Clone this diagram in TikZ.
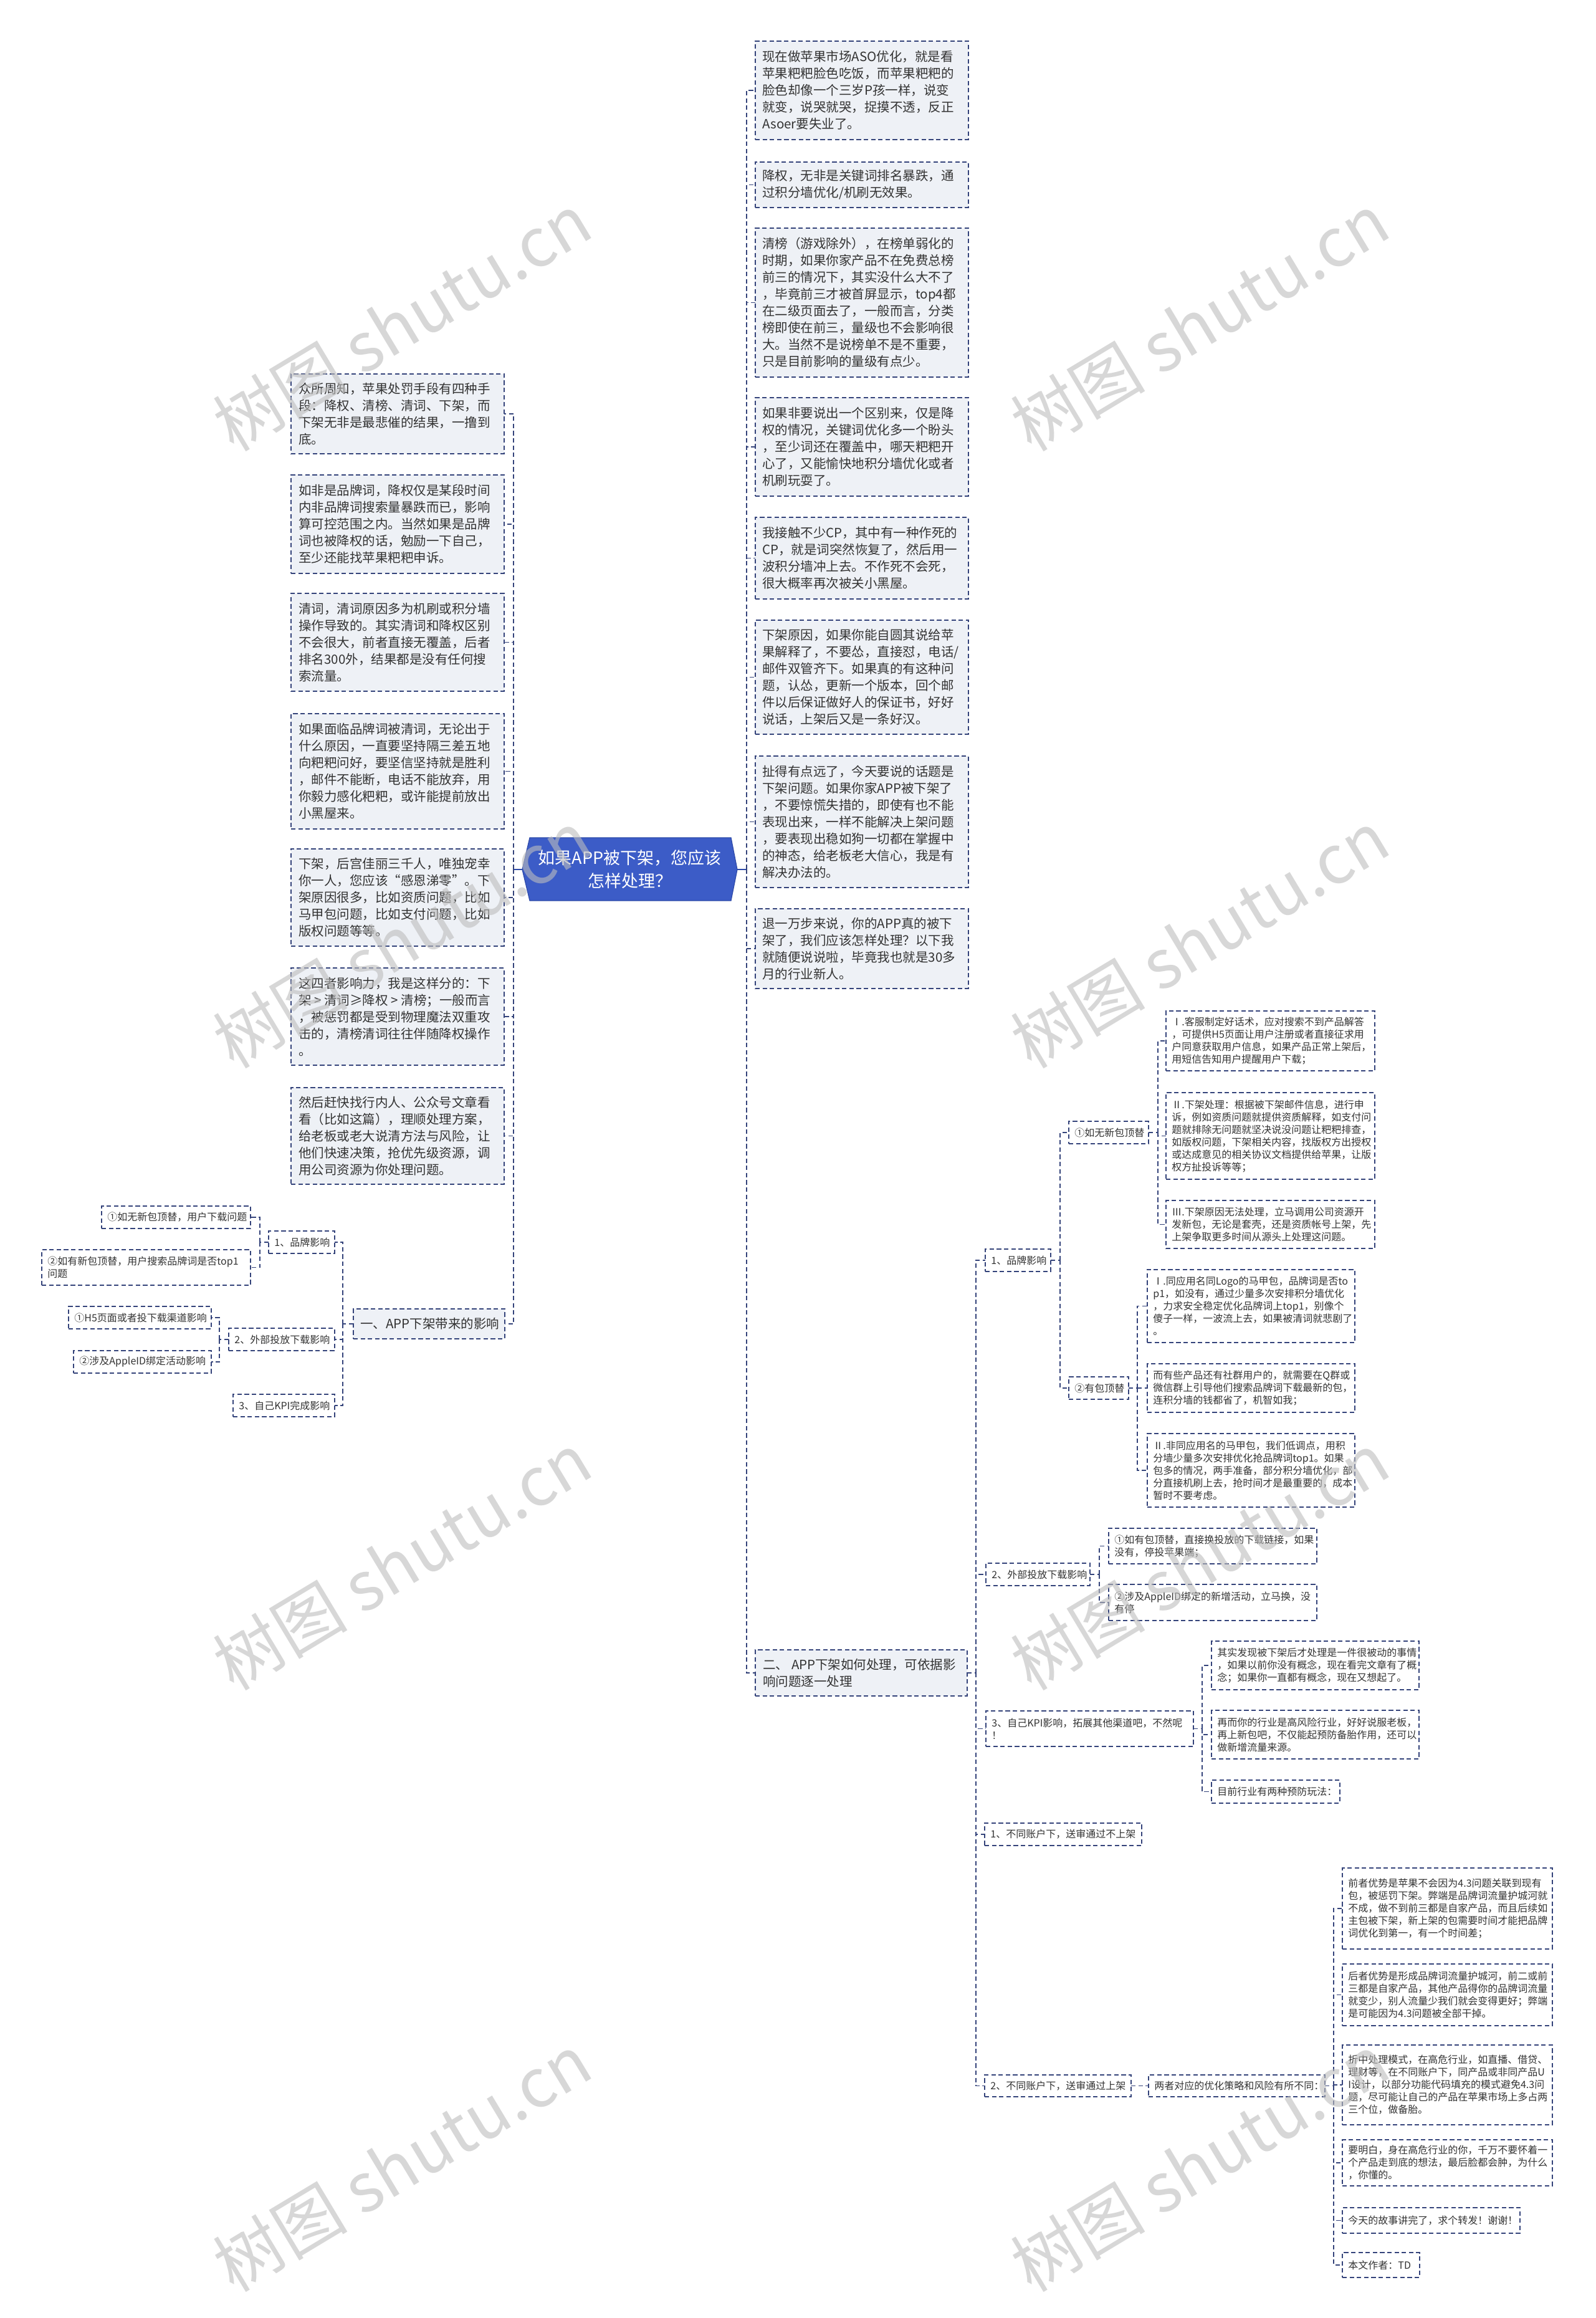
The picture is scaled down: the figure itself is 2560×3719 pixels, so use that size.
\documentclass[tikz,border=0pt]{standalone}
\usepackage{fontspec}
\setmainfont{Noto Sans CJK SC}
\definecolor{navy}{HTML}{34437A}
\definecolor{boxfill}{HTML}{EEF1F6}
\definecolor{txt}{HTML}{333333}
\definecolor{core}{HTML}{3C5CC7}
\definecolor{coreedge}{HTML}{2E4AA8}
\definecolor{wm}{HTML}{BDBDBD}
\tikzset{
  conn/.style={draw=navy, line width=0.8pt, dash pattern=on 3.6pt off 2.2pt},
  coreline/.style={draw=coreedge, line width=1pt},
  bigbox/.style={draw=navy, fill=boxfill, line width=0.8pt, dash pattern=on 3.6pt off 2.2pt, inner sep=0pt, outer sep=0pt, rectangle},
  smallbox/.style={draw=navy, fill=white, line width=0.8pt, dash pattern=on 3.6pt off 2.2pt, inner sep=0pt, outer sep=0pt, rectangle},
  bigtxt/.style={font=\fontsize{10.25}{13.5}\selectfont, text=txt, align=left, inner sep=0pt},
  smalltxt/.style={font=\fontsize{8}{10}\selectfont, text=txt, align=left, inner sep=0pt},
  wmark/.style={font=\fontsize{54}{54}\selectfont, text=wm, rotate=31, opacity=0.6},
}
\newcommand\bx[8]{%
  \node[#6box, minimum width={(#4-#2)*0.5pt}, minimum height={(#5-#3)*0.5pt}] (#1) at ({(#2+#4)/2},{(#3+#5)/2}) {};
  \node[#6txt, anchor=west] at ([xshift=#7]#1.west) {#8};
}
\begin{document}
\begin{tikzpicture}[x=0.5pt, y=-0.5pt]
\path[use as bounding box, fill=white] (0,0) rectangle (2560,3719);

% central node
\fill[core, draw=coreedge, line width=0.6pt] (838,1395) -- (850,1344) -- (1173,1344) -- (1183,1395) -- (1173,1445) -- (850,1445) -- cycle;
\node[minimum width={345*0.5pt}, minimum height={101*0.5pt}, inner sep=0pt, outer sep=0pt] (core) at (1010.5,1394.5) {};
\node[font=\fontsize{13.5}{18.5}\selectfont, text=white, align=center] at (core.center) {如果APP被下架，您应该\\怎样处理？};

% left column
\bx{L1}{467}{600}{809}{728}{big}{6pt}{众所周知，苹果处罚手段有四种手\\段：降权、清榜、清词、下架，而\\下架无非是最悲催的结果，一撸到\\底。}
\bx{L2}{467}{762}{809}{920}{big}{6pt}{如非是品牌词，降权仅是某段时间\\内非品牌词搜索量暴跌而已，影响\\算可控范围之内。当然如果是品牌\\词也被降权的话，勉励一下自己，\\至少还能找苹果粑粑申诉。}
\bx{L3}{467}{952}{809}{1109}{big}{6pt}{清词，清词原因多为机刷或积分墙\\操作导致的。其实清词和降权区别\\不会很大，前者直接无覆盖，后者\\排名300外，结果都是没有任何搜\\索流量。}
\bx{L4}{467}{1145}{809}{1330}{big}{6pt}{如果面临品牌词被清词，无论出于\\什么原因，一直要坚持隔三差五地\\向粑粑问好，要坚信坚持就是胜利\\，邮件不能断，电话不能放弃，用\\你毅力感化粑粑，或许能提前放出\\小黑屋来。}
\bx{L5}{467}{1362}{809}{1518}{big}{6pt}{下架，后宫佳丽三千人，唯独宠幸\\你一人，您应该“感恩涕零”。下\\架原因很多，比如资质问题，比如\\马甲包问题，比如支付问题，比如\\版权问题等等。}
\bx{L6}{467}{1553}{809}{1709}{big}{6pt}{这四者影响力，我是这样分的：下\\架 > 清词≥降权 > 清榜；一般而言\\，被惩罚都是受到物理魔法双重攻\\击的，清榜清词往往伴随降权操作\\。}
\bx{L7}{467}{1745}{809}{1900}{big}{6pt}{然后赶快找行内人、公众号文章看\\看（比如这篇），理顺处理方案，\\给老板或老大说清方法与风险，让\\他们快速决策，抢优先级资源，调\\用公司资源为你处理问题。}
\bx{one}{567}{2100}{810}{2148}{big}{5.5pt}{一、APP下架带来的影响}
\bx{LA}{431}{1975}{537}{2011}{small}{4.5pt}{1、品牌影响}
\bx{LB}{367}{2131}{537}{2167}{small}{4.5pt}{2、外部投放下载影响}
\bx{LC}{374}{2237}{537}{2273}{small}{4.5pt}{3、自己KPI完成影响}
\bx{LA1}{163}{1935}{402}{1971}{small}{4.5pt}{①如无新包顶替，用户下载问题}
\bx{LA2}{67}{2005}{402}{2062}{small}{4.5pt}{②如有新包顶替，用户搜索品牌词是否top1\\问题}
\bx{LB1}{110}{2096}{339}{2132}{small}{4.5pt}{①H5页面或者投下载渠道影响}
\bx{LB2}{118}{2167}{339}{2203}{small}{4.5pt}{②涉及AppleID绑定活动影响}

% middle column
\bx{B1}{1212}{66}{1554}{224}{big}{5.5pt}{现在做苹果市场ASO优化，就是看\\苹果粑粑脸色吃饭，而苹果粑粑的\\脸色却像一个三岁P孩一样，说变\\就变，说哭就哭，捉摸不透，反正\\Asoer要失业了。}
\bx{B2}{1212}{260}{1554}{333}{big}{5.5pt}{降权，无非是关键词排名暴跌，通\\过积分墙优化/机刷无效果。}
\bx{B3}{1212}{366}{1554}{605}{big}{5.5pt}{清榜（游戏除外），在榜单弱化的\\时期，如果你家产品不在免费总榜\\前三的情况下，其实没什么大不了\\，毕竟前三才被首屏显示，top4都\\在二级页面去了，一般而言，分类\\榜即使在前三，量级也不会影响很\\大。当然不是说榜单不是不重要，\\只是目前影响的量级有点少。}
\bx{B4}{1212}{638}{1554}{796}{big}{5.5pt}{如果非要说出一个区别来，仅是降\\权的情况，关键词优化多一个盼头\\，至少词还在覆盖中，哪天粑粑开\\心了，又能愉快地积分墙优化或者\\机刷玩耍了。}
\bx{B5}{1212}{830}{1554}{961}{big}{5.5pt}{我接触不少CP，其中有一种作死的\\CP，就是词突然恢复了，然后用一\\波积分墙冲上去。不作死不会死，\\很大概率再次被关小黑屋。}
\bx{B6}{1212}{995}{1554}{1178}{big}{5.5pt}{下架原因，如果你能自圆其说给苹\\果解释了，不要怂，直接怼，电话/\\邮件双管齐下。如果真的有这种问\\题，认怂，更新一个版本，回个邮\\件以后保证做好人的保证书，好好\\说话，上架后又是一条好汉。}
\bx{B7}{1212}{1213}{1554}{1424}{big}{5.5pt}{扯得有点远了，今天要说的话题是\\下架问题。如果你家APP被下架了\\，不要惊慌失措的，即使有也不能\\表现出来，一样不能解决上架问题\\，要表现出稳如狗一切都在掌握中\\的神态，给老板老大信心，我是有\\解决办法的。}
\bx{B8}{1212}{1458}{1554}{1586}{big}{5.5pt}{退一万步来说，你的APP真的被下\\架了，我们应该怎样处理？以下我\\就随便说说啦，毕竟我也就是30多\\月的行业新人。}
\bx{two}{1212}{2647}{1552}{2721}{big}{6pt}{二、 APP下架如何处理，可依据影\\响问题逐一处理}

% right part
\bx{R1}{1581}{2004}{1686}{2040}{small}{4.5pt}{1、品牌影响}
\bx{RA}{1715}{1799}{1843}{1835}{small}{4.5pt}{①如无新包顶替}
\bx{RB}{1715}{2209}{1811}{2245}{small}{4.5pt}{②有包顶替}
\bx{RI1}{1871}{1622}{2206}{1718}{small}{4.5pt}{Ⅰ.客服制定好话术，应对搜索不到产品解答\\，可提供H5页面让用户注册或者直接征求用\\户同意获取用户信息，如果产品正常上架后，\\用短信告知用户提醒用户下载；}
\bx{RI2}{1871}{1753}{2206}{1892}{small}{4.5pt}{Ⅱ.下架处理：根据被下架邮件信息，进行申\\诉，例如资质问题就提供资质解释，如支付问\\题就排除无问题就坚决说没问题让粑粑排查，\\如版权问题，下架相关内容，找版权方出授权\\或达成意见的相关协议文档提供给苹果，让版\\权方扯投诉等等；}
\bx{RI3}{1871}{1926}{2206}{2003}{small}{4.5pt}{Ⅲ.下架原因无法处理，立马调用公司资源开\\发新包，无论是套壳，还是资质帐号上架，先\\上架争取更多时间从源头上处理这问题。}
\bx{RJ1}{1841}{2037}{2174}{2154}{small}{4.5pt}{Ⅰ.同应用名同Logo的马甲包，品牌词是否to\\p1，如没有，通过少量多次安排积分墙优化\\，力求安全稳定优化品牌词上top1，别像个\\傻子一样，一波流上去，如果被清词就悲剧了\\。}
\bx{RJ2}{1841}{2188}{2174}{2266}{small}{4.5pt}{而有些产品还有社群用户的，就需要在Q群或\\微信群上引导他们搜索品牌词下载最新的包，\\连积分墙的钱都省了，机智如我；}
\bx{RJ3}{1841}{2300}{2174}{2418}{small}{4.5pt}{Ⅱ.非同应用名的马甲包，我们低调点，用积\\分墙少量多次安排优化抢品牌词top1。如果\\包多的情况，两手准备，部分积分墙优化，部\\分直接机刷上去，抢时间才是最重要的，成本\\暂时不要考虑。}
\bx{R2}{1582}{2508}{1749}{2544}{small}{4.5pt}{2、外部投放下载影响}
\bx{RK1}{1779}{2452}{2113}{2509}{small}{4.5pt}{①如有包顶替，直接换投放的下载链接，如果\\没有，停投苹果端；}
\bx{RK2}{1779}{2542}{2113}{2600}{small}{4.5pt}{②涉及AppleID绑定的新增活动，立马换，没\\有停}
\bx{R3}{1582}{2745}{1915}{2802}{small}{4.5pt}{3、自己KPI影响，拓展其他渠道吧，不然呢\\！}
\bx{RL1}{1944}{2633}{2277}{2711}{small}{4.5pt}{其实发现被下架后才处理是一件很被动的事情\\，如果以前你没有概念，现在看完文章有了概\\念；如果你一直都有概念，现在又想起了。}
\bx{RL2}{1944}{2744}{2277}{2822}{small}{4.5pt}{再而你的行业是高风险行业，好好说服老板，\\再上新包吧，不仅能起预防备胎作用，还可以\\做新增流量来源。}
\bx{RL3}{1944}{2856}{2150}{2893}{small}{4.5pt}{目前行业有两种预防玩法：}
\bx{R4}{1580}{2925}{1832}{2961}{small}{4.5pt}{1、不同账户下，送审通过不上架}
\bx{R5}{1580}{3329}{1815}{3364}{small}{4.5pt}{2、不同账户下，送审通过上架}
\bx{RM}{1843}{3329}{2126}{3364}{small}{4.5pt}{两者对应的优化策略和风险有所不同：}
\bx{C1}{2154}{2997}{2491}{3127}{small}{4.5pt}{前者优势是苹果不会因为4.3问题关联到现有\\包，被惩罚下架。弊端是品牌词流量护城河就\\不成，做不到前三都是自家产品，而且后续如\\主包被下架，新上架的包需要时间才能把品牌\\词优化到第一，有一个时间差；}
\bx{C2}{2154}{3151}{2491}{3250}{small}{4.5pt}{后者优势是形成品牌词流量护城河，前二或前\\三都是自家产品，其他产品得你的品牌词流量\\就变少，别人流量少我们就会变得更好；弊端\\是可能因为4.3问题被全部干掉。}
\bx{C3}{2154}{3281}{2491}{3409}{small}{4.5pt}{折中处理模式，在高危行业，如直播、借贷、\\理财等，在不同账户下，同产品或非同产品U\\I设计，以部分功能代码填充的模式避免4.3问\\题，尽可能让自己的产品在苹果市场上多占两\\三个位，做备胎。}
\bx{C4}{2154}{3433}{2491}{3507}{small}{4.5pt}{要明白，身在高危行业的你，千万不要怀着一\\个产品走到底的想法，最后脸都会肿，为什么\\，你懂的。}
\bx{C5}{2154}{3542}{2439}{3583}{small}{4.5pt}{今天的故事讲完了，求个转发！谢谢！}
\bx{C6}{2154}{3614}{2278}{3654}{small}{4.5pt}{本文作者：TD}

% connectors
\coordinate (ls) at ([xshift=-7pt]core.west);
\coordinate (rs) at ([xshift=7.5pt]core.east);
\draw[coreline] (core.west) -- (ls);
\draw[coreline] (core.east) -- (rs);
\foreach \n in {L1,L2,L3,L4,L5,L6,L7,one} \draw[conn] (ls) |- (\n.east);
\foreach \n in {B1,B2,B3,B4,B5,B6,B7,B8,two} \draw[conn] (rs) |- (\n.west);

\coordinate (sone) at ([xshift=-8.5pt]one.west);
\draw[conn] (one.west) -- (sone);
\foreach \n in {LA,LB,LC} \draw[conn] (sone) |- (\n.east);
\coordinate (sla) at ([xshift=-7pt]LA.west);
\draw[conn] (LA.west) -- (sla);
\foreach \n in {LA1,LA2} \draw[conn] (sla) |- (\n.east);
\coordinate (slb) at ([xshift=-7.5pt]LB.west);
\draw[conn] (LB.west) -- (slb);
\foreach \n in {LB1,LB2} \draw[conn] (slb) |- (\n.east);

\coordinate (stwo) at ([xshift=7pt]two.east);
\draw[conn] (two.east) -- (stwo);
\foreach \n in {R1,R2,R3,R4,R5} \draw[conn] (stwo) |- (\n.west);
\coordinate (sr1) at ([xshift=7.5pt]R1.east);
\draw[conn] (R1.east) -- (sr1);
\foreach \n in {RA,RB} \draw[conn] (sr1) |- (\n.west);
\coordinate (sra) at ([xshift=7.5pt]RA.east);
\draw[conn] (RA.east) -- (sra);
\foreach \n in {RI1,RI2,RI3} \draw[conn] (sra) |- (\n.west);
\coordinate (srb) at ([xshift=7pt]RB.east);
\draw[conn] (RB.east) -- (srb);
\foreach \n in {RJ1,RJ2,RJ3} \draw[conn] (srb) |- (\n.west);
\coordinate (sr2) at ([xshift=7.5pt]R2.east);
\draw[conn] (R2.east) -- (sr2);
\foreach \n in {RK1,RK2} \draw[conn] (sr2) |- (\n.west);
\coordinate (sr3) at ([xshift=7pt]R3.east);
\draw[conn] (R3.east) -- (sr3);
\foreach \n in {RL1,RL2,RL3} \draw[conn] (sr3) |- (\n.west);
\draw[conn] (R5.east) -- (RM.west);
\coordinate (srm) at ([xshift=7pt]RM.east);
\draw[conn] (RM.east) -- (srm);
\foreach \n in {C1,C2,C3,C4,C5,C6} \draw[conn] (srm) |- (\n.west);

% watermarks
\node[wmark] (w1) at (645,517) {树图 shutu.cn};
\node[wmark] (w2) at (1925,517) {树图 shutu.cn};
\node[wmark] (w3) at (645,1507) {树图 shutu.cn};
\node[wmark] (w4) at (1925,1507) {树图 shutu.cn};
\node[wmark] (w5) at (645,2505) {树图 shutu.cn};
\node[wmark] (w6) at (1925,2505) {树图 shutu.cn};
\node[wmark] (w7) at (645,3470) {树图 shutu.cn};
\node[wmark] (w8) at (1925,3470) {树图 shutu.cn};
\end{tikzpicture}
\end{document}
